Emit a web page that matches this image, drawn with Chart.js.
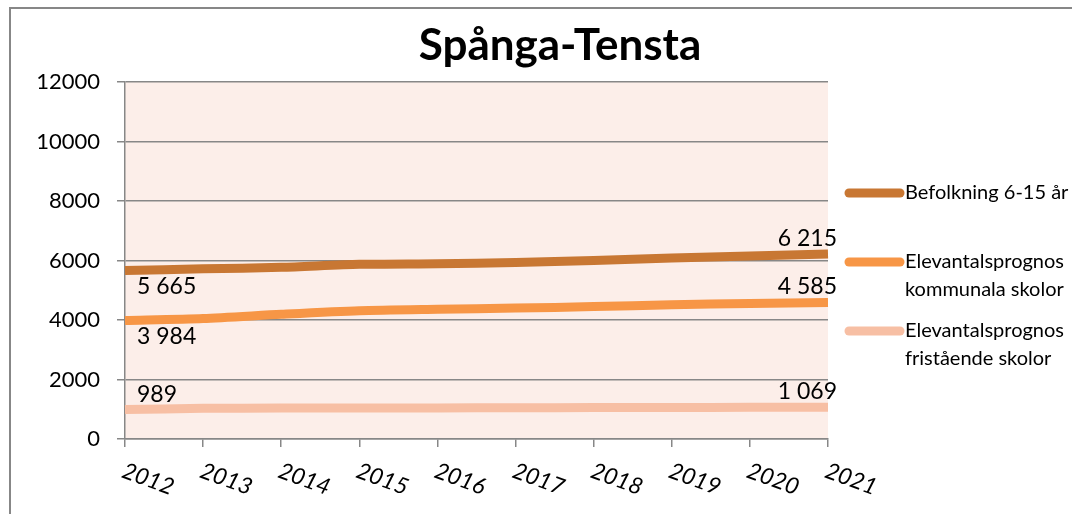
<!DOCTYPE html>
<html>
<head>
<meta charset="utf-8">
<script src="https://cdn.jsdelivr.net/npm/chart.js@4.4.1/dist/chart.umd.min.js"></script>
<style>
  html, body { margin: 0; padding: 0; background: #fff; }
  #wrap { width: 1072px; height: 514px; position: relative; }
</style>
</head>
<body>
<div id="wrap"><canvas id="myChart" width="1072" height="514"></canvas></div>
<script>
// data
const years = ['2012','2013','2014','2015','2016','2017','2018','2019','2020','2021'];
const befolkning = [5665, 5720, 5770, 5870, 5890, 5930, 6000, 6080, 6150, 6215];
const kommunala  = [3984, 4050, 4190, 4310, 4360, 4400, 4450, 4510, 4555, 4585];
const fristaende = [989, 1030, 1040, 1040, 1045, 1050, 1055, 1060, 1065, 1069];
const seriesNames = [['Befolkning 6-15 år'], ['Elevantalsprognos', 'kommunala skolor'], ['Elevantalsprognos', 'fristående skolor']];
const title = 'Spånga-Tensta';

const colors = ['#C87733', '#F79646', '#F7BFA4'];
const FONT = 'Lato, "Open Sans", sans-serif';
const gray = '#878787';

function fmt(v){
  // swedish style thousands with space
  return String(v).replace(/\B(?=(\d{3})+(?!\d))/g, ' ');
}

const extras = {
  id: 'extras',
  beforeDraw(chart){
    const c = chart.ctx, a = chart.chartArea;
    c.save();
    c.fillStyle = '#FCEEE9';
    c.fillRect(a.left, a.top, a.right - a.left, a.bottom - a.top);
    // frame of the chart box
    c.strokeStyle = gray;
    c.lineWidth = 2;
    c.beginPath();
    c.moveTo(10, 514); c.lineTo(10, 8); c.lineTo(1072, 8);
    c.stroke();
    c.restore();
  },
  afterDraw(chart){
    const c = chart.ctx, x = chart.scales.x, y = chart.scales.y;
    c.save();
    // title
    c.fillStyle = '#000';
    c.font = 'bold 44px ' + FONT;
    c.textAlign = 'center';
    c.textBaseline = 'middle';
    c.fillText(title, 560, 46);

    // slanted year labels
    c.font = 'italic 23px ' + FONT;
    c.textAlign = 'left';
    c.textBaseline = 'middle';
    years.forEach((yr, i) => {
      const px = x.getPixelForTick(i);
      c.save();
      c.translate(px - 2, 470);
      c.rotate(20 * Math.PI / 180);
      c.fillText(yr, 0, 0);
      c.restore();
    });

    // data labels, first and last point
    c.font = '23px ' + FONT;
    const sets = [befolkning, kommunala, fristaende];
    const firstBelow = [true, true, false];
    sets.forEach((arr, k) => {
      const n = arr.length - 1;
      const y0 = y.getPixelForValue(arr[0]);
      c.textAlign = 'left';
      c.textBaseline = 'middle';
      c.fillText(fmt(arr[0]), x.getPixelForTick(0) + 12, firstBelow[k] ? y0 + 16 : y0 - 15);
      const yn = y.getPixelForValue(arr[n]);
      c.textAlign = 'right';
      c.fillText(fmt(arr[n]), x.getPixelForTick(n) + 9, yn - 16);
    });

    // legend
    const legY = [193, 262, 331];
    c.font = '20px ' + FONT;
    c.textAlign = 'left';
    c.textBaseline = 'middle';
    seriesNames.forEach((lines, k) => {
      c.strokeStyle = colors[k];
      c.lineWidth = 9;
      c.lineCap = 'round';
      c.beginPath();
      c.moveTo(849, legY[k]); c.lineTo(900, legY[k]);
      c.stroke();
      c.fillStyle = '#000';
      lines.forEach((t, j) => c.fillText(t, 905, legY[k] + j * 28));
    });
    c.restore();
  }
};

const ctx = document.getElementById('myChart').getContext('2d');
const myChart = new Chart(ctx, {
  type: 'line',
  data: {
    labels: years,
    datasets: [
      { label: seriesNames[0].join(' '), data: befolkning, borderColor: colors[0] },
      { label: seriesNames[1].join(' '), data: kommunala, borderColor: colors[1] },
      { label: seriesNames[2].join(' '), data: fristaende, borderColor: colors[2] }
    ].map(d => Object.assign(d, { borderWidth: 9, pointRadius: 0, tension: 0.25, fill: false }))
  },
  options: {
    responsive: false,
    animation: false,
    layout: { padding: { left: 10, right: 244, top: 82, bottom: 0 } },
    plugins: { legend: { display: false }, tooltip: { enabled: false }, title: { display: false } },
    scales: {
      x: {
        offset: false,
        grid: { drawOnChartArea: false, drawTicks: true, tickLength: 8, color: gray, lineWidth: 1.5 },
        border: { color: gray, width: 1.5 },
        ticks: { display: false },
        afterFit: s => { s.height = 75; }
      },
      y: {
        min: 0, max: 12000,
        grid: { color: gray, lineWidth: 1.5, tickLength: 8 },
        border: { color: gray, width: 1.5 },
        ticks: { stepSize: 2000, padding: 17, color: '#000', font: { family: FONT, size: 22 },
                 callback: v => String(v) },
        afterFit: s => { s.width = 115; }
      }
    }
  },
  plugins: [extras]
});
</script>
</body>
</html>
